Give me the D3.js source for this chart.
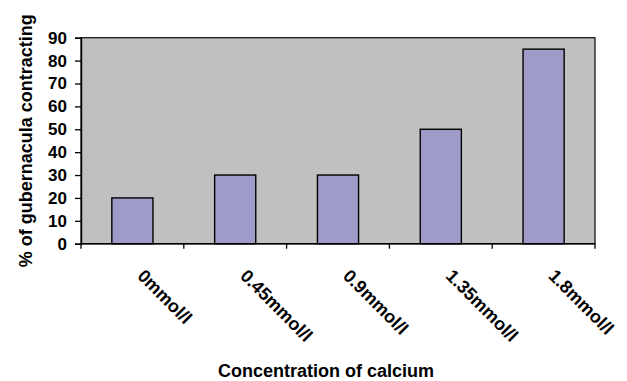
<!DOCTYPE html>
<html>
<head>
<meta charset="utf-8">
<script src="https://cdn.jsdelivr.net/npm/d3@7/dist/d3.min.js"></script>
<style>
  html, body { margin: 0; padding: 0; background: #fff; }
  svg { display: block; }
  text { font-family: "Liberation Sans", Arial, Helvetica, sans-serif; font-weight: bold; fill: #000; }
</style>
</head>
<body>
<svg id="chart" width="627" height="381"></svg>
<script>
// Calcium concentrations and share of gubernacula contracting (%)
const categories = ["0mmol/l", "0.45mmol/l", "0.9mmol/l", "1.35mmol/l", "1.8mmol/l"];
const values = [20, 30, 30, 50, 85];
const yTicks = [0, 10, 20, 30, 40, 50, 60, 70, 80, 90];
const yTitle = "% of gubernacula contracting";
const xTitle = "Concentration of calcium";

const svg = d3.select("#chart");
const plot = { left: 81, top: 37.7, right: 595, bottom: 243.7 };

const x = d3.scaleBand()
  .domain(categories)
  .range([plot.left, plot.right])
  .paddingInner(0.6)
  .paddingOuter(0.3);

const y = d3.scaleLinear()
  .domain([0, 90])
  .range([plot.bottom, plot.top]);

// plot area background
svg.append("rect")
  .attr("x", plot.left).attr("y", plot.top)
  .attr("width", plot.right - plot.left)
  .attr("height", plot.bottom - plot.top)
  .attr("fill", "#c0c0c0")
  .attr("stroke", "#1a1a1a")
  .attr("stroke-width", 1.3);

// bars
svg.append("g").selectAll("rect")
  .data(categories)
  .join("rect")
  .attr("x", d => x(d))
  .attr("y", (d, i) => y(values[i]))
  .attr("width", x.bandwidth())
  .attr("height", (d, i) => y(0) - y(values[i]))
  .attr("fill", "#9e9bc8")
  .attr("stroke", "#000")
  .attr("stroke-width", 1.4);

// y axis
const yAxis = svg.append("g")
  .attr("transform", `translate(${plot.left},0)`)
  .call(d3.axisLeft(y).tickValues(yTicks).tickSize(6).tickPadding(8));
yAxis.select(".domain").attr("stroke", "#000").attr("stroke-width", 1.4);
yAxis.selectAll(".tick line").attr("stroke", "#000").attr("stroke-width", 1.3);
yAxis.selectAll(".tick text")
  .attr("font-size", 17)
  .attr("font-family", "Liberation Sans, Arial, sans-serif")
  .attr("font-weight", "bold")
  .attr("fill", "#000");

// x axis: ticks at category boundaries
const boundaries = d3.range(categories.length + 1).map(i => plot.left + i * (plot.right - plot.left) / categories.length);
const xAxis = svg.append("g");
xAxis.append("line")
  .attr("x1", plot.left).attr("x2", plot.right)
  .attr("y1", plot.bottom).attr("y2", plot.bottom)
  .attr("stroke", "#000").attr("stroke-width", 1.4);
xAxis.selectAll("line.tick")
  .data(boundaries)
  .join("line")
  .attr("class", "tick")
  .attr("x1", d => d).attr("x2", d => d)
  .attr("y1", plot.bottom).attr("y2", plot.bottom + 5)
  .attr("stroke", "#000").attr("stroke-width", 1.3);

// rotated category labels
xAxis.selectAll("text")
  .data(categories)
  .join("text")
  .attr("transform", d => `translate(${x(d) + x.bandwidth() / 2 + 4},277) rotate(45)`)
  .attr("text-anchor", "start")
  .attr("font-size", 18)
  .text(d => d);

// axis titles
svg.append("text")
  .attr("transform", `translate(32,${(plot.top + plot.bottom) / 2}) rotate(-90)`)
  .attr("text-anchor", "middle")
  .attr("font-size", 18)
  .text(yTitle);

svg.append("text")
  .attr("x", 326).attr("y", 377)
  .attr("text-anchor", "middle")
  .attr("font-size", 18)
  .text(xTitle);
</script>
</body>
</html>
